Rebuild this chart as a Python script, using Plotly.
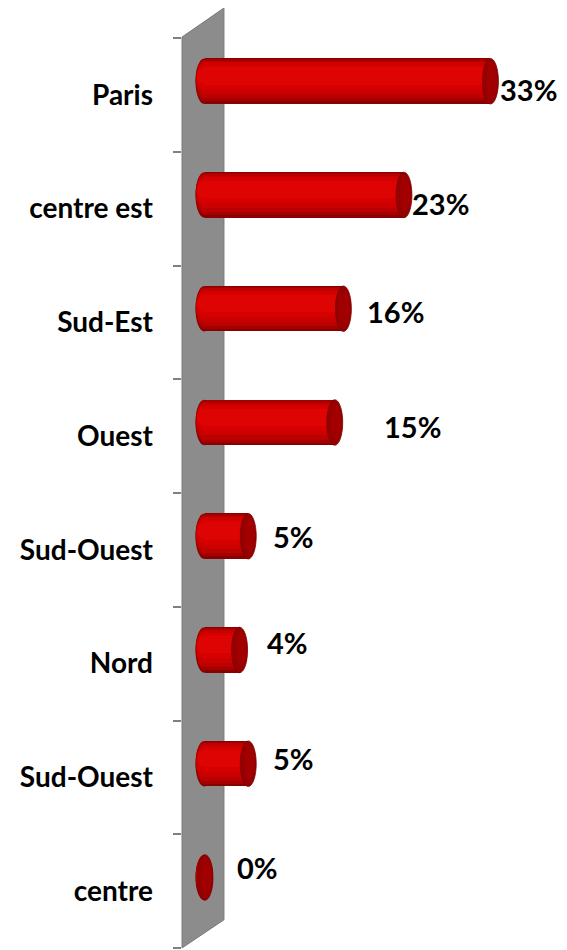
import plotly.graph_objects as go

# ---- data ----
categories = ["Paris", "centre est", "Sud-Est", "Ouest", "Sud-Ouest", "Nord", "Sud-Ouest", "centre"]
values = [33, 23, 16, 15, 5, 4, 5, 0]
value_labels = ["33%", "23%", "16%", "15%", "5%", "4%", "5%", "0%"]

# ---- style / layout parameters ----
# (page body has an 8px margin, so the figure is sized/offset to compensate)
W, H = 559, 942
ML, MR, MT, MB = 174, 7, 30, 2
X_RANGE = [-2.66, 41.04]
BAR_SHIFT = 0.12          # bars sit a bit above category centre (3D depth)
BAR_H = 0.40              # cylinder thickness (category units)
CAP_W = 0.92              # half-width of the elliptic caps (value units)
# label offsets (pixels) relative to the cylinder end, per bar
LBL_DX = [0, -2, 14, 39, 15, 17, 15, 22]
LBL_DY = [-8, -9, -3, -4, 0, 7, 5, 10]

n = len(categories)
idx = list(range(n))
ybar = [i - BAR_SHIFT for i in idx]

fig = go.Figure()

# shaded cylinder body: (relative thickness, centre offset, colour), outer -> inner
layers = [
    (1.00, 0.000, "#880000"),
    (0.93, -0.008, "#a40000"),
    (0.83, -0.016, "#ba0000"),
    (0.70, -0.026, "#cb0000"),
    (0.55, -0.036, "#d60000"),
    (0.38, -0.046, "#de0404"),
]
for w, off, col in layers:
    fig.add_trace(go.Bar(
        orientation="h", x=values, y=[y + off for y in ybar], width=w * BAR_H, base=0,
        marker=dict(color=col, line=dict(width=0)), hoverinfo="skip", showlegend=False,
    ))

shapes = []
# back wall (3D side wall)
shapes.append(dict(
    type="path", xref="paper", yref="paper", layer="below",
    path="M 0 1.001 L 0.111 1.033 L 0.111 0.031 L 0 0 Z",
    fillcolor="#8c8c8c", line=dict(color="#7a7a7a", width=1),
))
# rounded left ends (below bars)
for v, y in zip(values, ybar):
    for w, off, col in layers:
        hh = w * BAR_H / 2
        shapes.append(dict(
            type="circle", xref="x", yref="y", layer="below",
            x0=-CAP_W * (0.8 + 0.4 * w), x1=CAP_W, y0=y + off - hh, y1=y + off + hh,
            fillcolor=col, line=dict(width=0),
        ))
# right end caps (above bars)
for v, y in zip(values, ybar):
    shapes.append(dict(
        type="circle", xref="x", yref="y", layer="above",
        x0=v - CAP_W, x1=v + CAP_W, y0=y - BAR_H / 2, y1=y + BAR_H / 2,
        fillcolor="#960000", line=dict(color="#7e0000", width=0.8),
    ))
    shapes.append(dict(
        type="circle", xref="x", yref="y", layer="above",
        x0=v - CAP_W * 0.5, x1=v + CAP_W * 0.8, y0=y - BAR_H * 0.40, y1=y + BAR_H * 0.34,
        fillcolor="#a20000", line=dict(width=0),
    ))

annotations = []
for v, y, t, dx, dy in zip(values, ybar, value_labels, LBL_DX, LBL_DY):
    annotations.append(dict(
        x=v + CAP_W, y=y, xref="x", yref="y", text=t, showarrow=False,
        xanchor="left", yanchor="middle", xshift=dx, yshift=dy,
        font=dict(family="Lato", size=29, color="#000000", weight="bold"),
    ))

fig.update_layout(
    width=W, height=H,
    margin=dict(l=ML, r=MR, t=MT, b=MB),
    paper_bgcolor="white", plot_bgcolor="rgba(0,0,0,0)",
    barmode="overlay", bargap=0,
    shapes=shapes, annotations=annotations,
    xaxis=dict(range=X_RANGE, visible=False, fixedrange=True),
    yaxis=dict(
        range=[n - 0.5, -0.5], tickmode="array", tickvals=idx, ticktext=categories,
        showgrid=False, zeroline=False, showline=False,
        ticks="", ticklabelstandoff=28,
        tickfont=dict(family="Lato", size=28, color="#000000", weight="bold"),
        minor=dict(ticks="outside", tick0=-0.5, dtick=1, ticklen=8,
                   tickcolor="#808080", tickwidth=1.5, showgrid=False),
    ),
    font=dict(family="Lato"),
)

fig.write_html("out.html")
